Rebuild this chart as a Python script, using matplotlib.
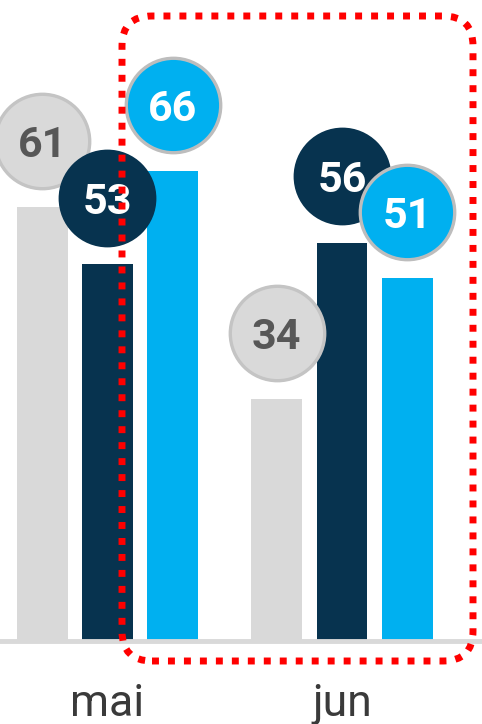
import numpy as np
import matplotlib
matplotlib.use("Agg")
import matplotlib.pyplot as plt
from matplotlib.patches import FancyBboxPatch
from matplotlib.transforms import IdentityTransform

plt.rcParams['font.family'] = ['Roboto', 'DejaVu Sans']

months = ['mai', 'jun']
serie_a = [61, 34]   # cinza
serie_b = [53, 56]   # azul escuro
serie_c = [66, 51]   # azul claro

cores = ['#d9d9d9', '#07334f', '#00b0f0']
bordas = ['#c4c4c4', '#07334f', '#bdbdbd']
cor_texto = ['#575757', 'white', 'white']

fig = plt.figure(figsize=(4.82, 7.24), dpi=100)
ax = fig.add_axes([0, 83 / 724, 1, 641 / 724])

x = np.arange(len(months))
offs = [-0.278, 0, 0.278]
w = 0.216
series = [serie_a, serie_b, serie_c]

for i, vals in enumerate(series):
    ax.bar(x + offs[i], vals, width=w, color=cores[i], zorder=2)

# bolhas com os valores
for i, vals in enumerate(series):
    yy = np.array(vals) + 9.3
    ax.scatter(x + offs[i], yy, s=(68) ** 2, color=cores[i],
               edgecolors=bordas[i], linewidths=2.4, zorder=3 + i, clip_on=False)
    for xi, yi, v in zip(x + offs[i], yy, vals):
        ax.text(xi, yi, str(v), ha='center', va='center_baseline', fontsize=31,
                fontweight='bold', color=cor_texto[i], zorder=3 + i)

ax.set_xlim(-0.4584, 1.597)
ax.set_ylim(0, 90.1)
ax.set_xticks(x)
ax.set_xticklabels(months, fontsize=32, color='#3a3a3a')
ax.tick_params(axis='x', length=0, pad=30)
ax.set_yticks([])
for s in ['top', 'left', 'right']:
    ax.spines[s].set_visible(False)
ax.spines['bottom'].set_color('#d9d9d9')
ax.spines['bottom'].set_linewidth(3.5)

# destaque vermelho em volta de junho
destaque = FancyBboxPatch((122, 724 - 661), 473 - 122, 661 - 16,
                          boxstyle='round,pad=0,rounding_size=30',
                          transform=IdentityTransform(), fill=False,
                          edgecolor='#ff0000', linewidth=5,
                          linestyle=(0, (1, 1.3)), zorder=10)
fig.patches.append(destaque)

fig.savefig('out.png', dpi=100)
